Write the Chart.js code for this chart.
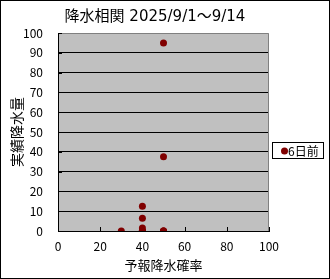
<!DOCTYPE html>
<html lang="ja">
<head>
<meta charset="utf-8">
<title>降水相関</title>
<script src="https://cdn.jsdelivr.net/npm/chart.js@4/dist/chart.umd.min.js"></script>
<style>
  html, body { margin: 0; padding: 0; background: #fff; }
  canvas { display: block; }
</style>
</head>
<body>
<canvas id="chart" width="330" height="279"></canvas>
<script>
// データ
const chartTitle = '降水相関 2025/9/1～9/14';
const seriesName = '6日前';
const forecastProb = [30, 40, 40, 40, 40, 40, 40, 40, 50, 50, 50, 50, 50, 40];   // 予報降水確率 (%)
const actualRain = [0, 0, 0, 1.5, 6.5, 12.5, 0, 0, 0, 0, 37.5, 95, 0, 0];       // 実績降水量 (mm)
const xTicks = [0, 20, 40, 60, 80, 100];
const yTicks = [0, 10, 20, 30, 40, 50, 60, 70, 80, 90, 100];

const FONT = "'Noto Sans CJK JP', 'DejaVu Sans', sans-serif";
const TITLE_FONT = "'DejaVu Sans', 'Noto Sans CJK JP', sans-serif";
const pointColor = '#800000';

// 背景・枠・内向き目盛・凡例・タイトルを描くプラグイン
const excelLook = {
  id: 'excelLook',
  beforeDraw(chart) {
    const { ctx, chartArea: a } = chart;
    ctx.save();
    ctx.fillStyle = '#ffffff';
    ctx.fillRect(0, 0, chart.width, chart.height);
    ctx.fillStyle = '#c0c0c0';
    ctx.fillRect(a.left, a.top, a.right - a.left, a.bottom - a.top);
    ctx.restore();
  },
  beforeDatasetsDraw(chart) {
    const { ctx, chartArea: a, scales } = chart;
    ctx.save();
    // 上・右の灰色枠
    ctx.strokeStyle = '#808080';
    ctx.lineWidth = 1;
    ctx.beginPath();
    ctx.moveTo(a.left, a.top + 0.5);
    ctx.lineTo(a.right - 0.5, a.top + 0.5);
    ctx.lineTo(a.right - 0.5, a.bottom);
    ctx.stroke();
    // 内向きの目盛
    ctx.strokeStyle = '#000000';
    ctx.beginPath();
    xTicks.forEach(v => {
      const x = Math.round(scales.x.getPixelForValue(v)) + 0.5;
      ctx.moveTo(x, a.bottom);
      ctx.lineTo(x, a.bottom - 4);
    });
    yTicks.forEach(v => {
      const y = Math.round(scales.y.getPixelForValue(v)) + 0.5;
      ctx.moveTo(a.left, y);
      ctx.lineTo(a.left + 4, y);
    });
    ctx.stroke();
    ctx.restore();
  },
  afterDraw(chart) {
    const { ctx } = chart;
    ctx.save();
    // タイトル
    ctx.fillStyle = '#000';
    ctx.font = '15px ' + TITLE_FONT;
    ctx.textAlign = 'center';
    ctx.textBaseline = 'middle';
    ctx.fillText(chartTitle, 155, 17);
    // 凡例
    ctx.fillStyle = '#fff';
    ctx.fillRect(272.5, 142.5, 51, 16);
    ctx.strokeStyle = '#000';
    ctx.lineWidth = 1;
    ctx.strokeRect(272.5, 142.5, 51, 16);
    ctx.fillStyle = pointColor;
    ctx.beginPath();
    ctx.arc(284.5, 151, 3.5, 0, Math.PI * 2);
    ctx.fill();
    ctx.fillStyle = '#000';
    ctx.font = '12px ' + FONT;
    ctx.textAlign = 'left';
    ctx.fillText(seriesName, 288, 151);
    // 外枠
    ctx.strokeRect(0.5, 0.5, chart.width - 1, chart.height - 1);
    ctx.restore();
  }
};

const ctx = document.getElementById('chart').getContext('2d');
new Chart(ctx, {
  type: 'scatter',
  data: {
    datasets: [{
      label: seriesName,
      data: forecastProb.map((x, i) => ({ x: x, y: actualRain[i] })),
      backgroundColor: pointColor,
      borderColor: pointColor,
      borderWidth: 0,
      pointRadius: 3.5,
      pointHoverRadius: 3.5
    }]
  },
  options: {
    responsive: false,
    animation: false,
    devicePixelRatio: 1,
    events: [],
    layout: { padding: { top: 33, right: 61, left: 0, bottom: 0 } },
    plugins: {
      legend: { display: false },
      title: { display: false },
      tooltip: { enabled: false }
    },
    scales: {
      x: {
        type: 'linear',
        min: 0,
        max: 100,
        afterBuildTicks: scale => { scale.ticks = xTicks.map(v => ({ value: v })); },
        afterFit: scale => { scale.height = 48; },
        ticks: { color: '#000', font: { family: FONT, size: 12 }, padding: 8, maxRotation: 0 },
        grid: { display: false, drawTicks: false },
        border: { display: true, color: '#000', width: 1 },
        title: { display: true, text: '予報降水確率', color: '#000', font: { family: FONT, size: 13 }, padding: { top: 0, bottom: 6 } }
      },
      y: {
        type: 'linear',
        min: 0,
        max: 100,
        afterBuildTicks: scale => { scale.ticks = yTicks.map(v => ({ value: v })); },
        afterFit: scale => { scale.width = 58; },
        ticks: { color: '#000', font: { family: FONT, size: 12 }, padding: 15 },
        grid: {
          drawTicks: false,
          color: c => (c.tick && c.tick.value === 100) ? 'rgba(0,0,0,0)' : '#000',
          lineWidth: 1
        },
        border: { display: true, color: '#000', width: 1 },
        title: { display: true, text: '実績降水量', color: '#000', font: { family: FONT, size: 14 }, padding: { top: 8, bottom: 0 } }
      }
    }
  },
  plugins: [excelLook]
});
</script>
</body>
</html>
